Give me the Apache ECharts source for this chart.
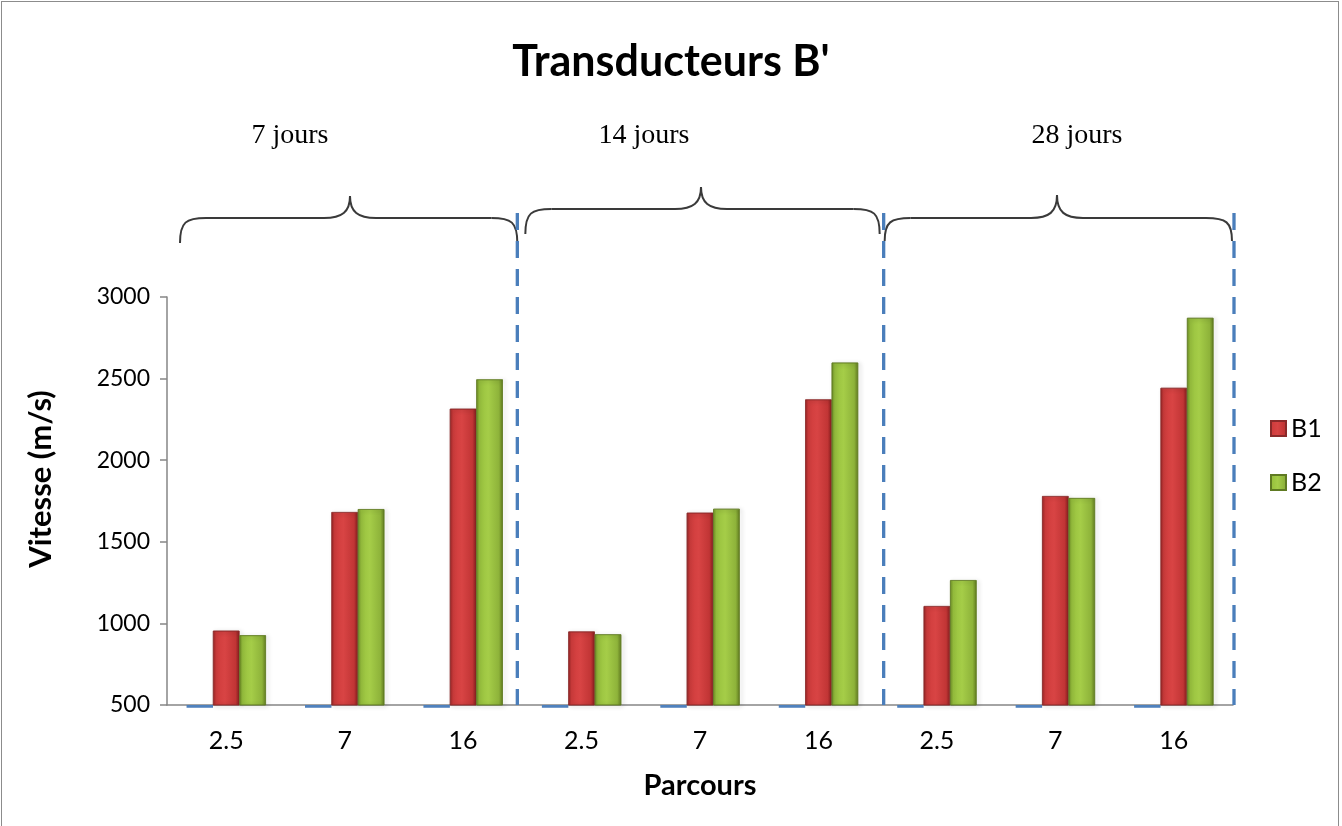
<!DOCTYPE html>
<html>
<head>
<meta charset="utf-8">
<script src="https://cdn.jsdelivr.net/npm/echarts@6/dist/echarts.min.js"></script>
<style>
html,body{margin:0;padding:0;background:#fff;}
#frame{position:absolute;left:1px;top:1px;width:1336px;height:830px;border:1px solid #8c8c8c;}
#chart{position:absolute;left:0;top:0;width:1342px;height:826px;}
</style>
</head>
<body>
<div id="frame"></div>
<div id="chart"></div>
<script>
// ---- data ----
const categories = ['2.5', '7', '16', '2.5', '7', '16', '2.5', '7', '16'];
const groupLabels = ['7 jours', '14 jours', '28 jours'];
const b1 = [955, 1682, 2315, 950, 1678, 2372, 1106, 1780, 2443];
const b2 = [927, 1700, 2495, 933, 1702, 2598, 1265, 1768, 2872];
const parcoursBase = [-17, -17, -17, -17, -17, -17, -17, -17, -17];
const yTicks = { min: 500, max: 3000, interval: 500 };

const FONT = 'Lato';
const chart = echarts.init(document.getElementById('chart'));

function grad(stops) {
  return new echarts.graphic.LinearGradient(0, 0, 1, 0, stops.map(function (c) { return { offset: c[0], color: c[1] }; }));
}
const redFill = grad([[0, '#9a2626'], [0.12, '#cf3c3c'], [0.45, '#d84444'], [0.85, '#c13535'], [1, '#8a2020']]);
const greenFill = grad([[0, '#6f8f26'], [0.12, '#98c13e'], [0.45, '#a5cd48'], [0.85, '#8eb33a'], [1, '#647f22']]);

const option = {
  animation: false,
  title: {
    text: "Transducteurs B'",
    left: 'center',
    top: 36,
    textStyle: { fontFamily: FONT, fontWeight: 'bold', fontSize: 43, color: '#000' }
  },
  legend: {
    orient: 'vertical',
    left: 1265,
    top: 411,
    itemWidth: 15,
    itemHeight: 15,
    itemGap: 29,
    data: ['B1', 'B2'],
    textStyle: { fontFamily: FONT, fontSize: 25, color: '#000' },
    icon: 'rect'
  },
  grid: { left: 167, right: 109, top: 297, bottom: 121 },
  xAxis: {
    type: 'category',
    data: categories,
    name: 'Parcours',
    nameLocation: 'middle',
    nameGap: 66,
    nameTextStyle: { fontFamily: FONT, fontWeight: 'bold', fontSize: 29, color: '#000' },
    axisLine: { lineStyle: { color: '#868686', width: 1.5 } },
    axisTick: { show: false },
    axisLabel: { fontFamily: FONT, fontSize: 25, color: '#000', margin: 23 }
  },
  yAxis: [{
    type: 'value',
    min: yTicks.min,
    max: yTicks.max,
    interval: yTicks.interval,
    name: 'Vitesse (m/s)',
    nameLocation: 'middle',
    nameGap: 111,
    nameTextStyle: { fontFamily: FONT, fontWeight: 'bold', fontSize: 31, color: '#000', padding: [0, 0, 0, 44] },
    axisLine: { show: true, lineStyle: { color: '#868686', width: 1.5 } },
    axisTick: { show: true, length: 7, lineStyle: { color: '#868686', width: 1.5 } },
    splitLine: { show: false },
    axisLabel: { fontFamily: FONT, fontSize: 23, color: '#000', margin: 17, formatter: function (v) { return String(v); } }
  }, {
    type: 'value',
    min: 0,
    max: yTicks.max - yTicks.min,
    show: false,
    splitLine: { show: false }
  }],
  series: [
    {
      name: 'Parcours',
      type: 'bar',
      yAxisIndex: 1,
      data: parcoursBase,
      clip: false,
      barGap: '0%',
      barCategoryGap: '33%',
      itemStyle: { color: '#4f81bd' },
      silent: true
    },
    {
      name: 'B1',
      type: 'bar',
      data: b1,
      barGap: '0%',
      barCategoryGap: '33%',
      itemStyle: { color: redFill, borderColor: '#8a2a2a', borderWidth: 0.6, shadowBlur: 4, shadowColor: 'rgba(0,0,0,0.35)', shadowOffsetX: 2, shadowOffsetY: 1 }
    },
    {
      name: 'B2',
      type: 'bar',
      data: b2,
      barGap: '0%',
      barCategoryGap: '33%',
      itemStyle: { color: greenFill, borderColor: '#5f7a22', borderWidth: 0.6, shadowBlur: 4, shadowColor: 'rgba(0,0,0,0.35)', shadowOffsetX: 2, shadowOffsetY: 1 }
    }
  ]
};
chart.setOption(option);

// ---- decorations: dashed separators, braces and group labels ----
function xPix(i) { return chart.convertToPixel({ xAxisIndex: 0 }, i); }
const step = xPix(1) - xPix(0);
const yBottom = chart.convertToPixel({ yAxisIndex: 0 }, yTicks.min);
const bounds = [xPix(2) + step / 2 - 5, xPix(5) + step / 2 + 6, xPix(8) + step / 2 + 1];
const braceSpans = [
  [180, bounds[0], 350, 196, 218, 243],
  [bounds[0] + 8, bounds[1] - 4, 701, 187, 209, 234],
  [bounds[1] + 1, bounds[2] - 2, 1057, 195, 218, 241]
];
const labelX = [290, 644, 1077];

const stroke = { stroke: '#3a3a3a', lineWidth: 2, fill: null };
const graphics = [];
function bez(x1, y1, cx1, cy1, cx2, cy2, x2, y2) {
  graphics.push({ type: 'bezierCurve', z: 9, shape: { x1: x1, y1: y1, x2: x2, y2: y2, cpx1: cx1, cpy1: cy1, cpx2: cx2, cpy2: cy2 }, style: stroke });
}
function seg(x1, y1, x2, y2) {
  graphics.push({ type: 'line', z: 9, shape: { x1: x1, y1: y1, x2: x2, y2: y2 }, style: stroke });
}
function brace(x0, x1, tip, yTip, yLine, yEnd) {
  const r = 26, t = 26;
  bez(x0, yEnd, x0, yLine + 4, x0 + 6, yLine, x0 + r, yLine);
  seg(x0 + r, yLine, tip - t, yLine);
  bez(tip - t, yLine, tip - 8, yLine, tip, yLine - 6, tip, yTip);
  bez(tip, yTip, tip, yLine - 6, tip + 8, yLine, tip + t, yLine);
  seg(tip + t, yLine, x1 - r, yLine);
  bez(x1 - r, yLine, x1 - 6, yLine, x1, yLine + 4, x1, yEnd);
}

bounds.forEach(function (bx) {
  graphics.push({
    type: 'line', z: 10,
    shape: { x1: bx, y1: 213, x2: bx, y2: yBottom },
    style: { stroke: '#4a7ebb', lineWidth: 3.3, lineDash: [17, 11] }
  });
});
braceSpans.forEach(function (b, i) {
  brace(b[0], b[1], b[2], b[3], b[4], b[5]);
  graphics.push({
    type: 'text', z: 9,
    x: labelX[i], y: 136,
    style: { text: groupLabels[i], font: '28px "Liberation Serif", "Times New Roman", serif', fill: '#000', align: 'center', verticalAlign: 'middle' }
  });
});
chart.setOption({ graphic: graphics });
</script>
</body>
</html>
